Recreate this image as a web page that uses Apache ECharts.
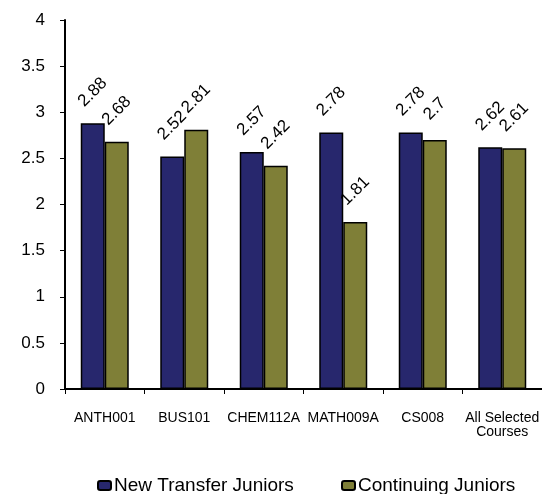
<!DOCTYPE html>
<html>
<head>
<meta charset="utf-8">
<script src="https://cdn.jsdelivr.net/npm/echarts@6/dist/echarts.min.js"></script>
<style>
html,body{margin:0;padding:0;background:#fff;}
#main{width:542px;height:494px;}
</style>
</head>
<body>
<div id="main"></div>
<script>
var categories = ['ANTH001', 'BUS101', 'CHEM112A', 'MATH009A', 'CS008', 'All Selected\nCourses'];
var seriesNames = ['New Transfer Juniors', 'Continuing Juniors'];
var newTransfer = [2.88, 2.52, 2.57, 2.78, 2.78, 2.62];
var continuing = [2.68, 2.81, 2.42, 1.81, 2.7, 2.61];
var yTicks = { min: 0, max: 4, interval: 0.5 };

var font = 'Liberation Sans, Arial, sans-serif';
var chart = echarts.init(document.getElementById('main'), null, { renderer: 'canvas' });

function labelCfg() {
  return {
    show: true,
    position: 'top',
    distance: 31,
    rotate: 45,
    align: 'center',
    verticalAlign: 'middle',
    fontFamily: font,
    fontSize: 17,
    color: '#000',
    formatter: function (p) { return String(p.value); }
  };
}

chart.setOption({
  animation: false,
  backgroundColor: '#fff',
  grid: { left: 65, top: 20, width: 490, height: 369, containLabel: false },
  legend: [
    {
      data: [seriesNames[0]], left: 97, top: 476, padding: 0, itemWidth: 13, itemHeight: 9, itemGap: 0,
      textStyle: { fontFamily: font, fontSize: 19, color: '#000', padding: [0, 0, 0, -2] }
    },
    {
      data: [seriesNames[1]], left: 341, top: 476, padding: 0, itemWidth: 13, itemHeight: 9, itemGap: 0,
      textStyle: { fontFamily: font, fontSize: 19, color: '#000', padding: [0, 0, 0, -2] }
    }
  ],
  xAxis: {
    type: 'category',
    data: categories,
    axisLine: { lineStyle: { color: '#000', width: 2 } },
    axisTick: { show: true, length: 5, lineStyle: { color: '#000', width: 1 } },
    axisLabel: { interval: 0, margin: 22, fontFamily: font, fontSize: 14, color: '#000', lineHeight: 14 },
    splitLine: { show: false }
  },
  yAxis: {
    type: 'value',
    min: yTicks.min, max: yTicks.max, interval: yTicks.interval,
    axisLine: { show: true, lineStyle: { color: '#000', width: 2 } },
    axisTick: { show: true, length: 5, lineStyle: { color: '#000', width: 1 } },
    axisLabel: { margin: 20, fontFamily: font, fontSize: 17, color: '#000' },
    splitLine: { show: false }
  },
  series: [
    {
      name: seriesNames[0], type: 'bar', data: newTransfer,
      barWidth: 24, barGap: '0%',
      itemStyle: { color: '#27276D', borderColor: '#000', borderWidth: 1.5 },
      label: labelCfg()
    },
    {
      name: seriesNames[1], type: 'bar', data: continuing,
      barWidth: 24, barGap: '0%',
      itemStyle: { color: '#7F7F37', borderColor: '#000', borderWidth: 1.5 },
      label: labelCfg()
    }
  ]
});
</script>
</body>
</html>
